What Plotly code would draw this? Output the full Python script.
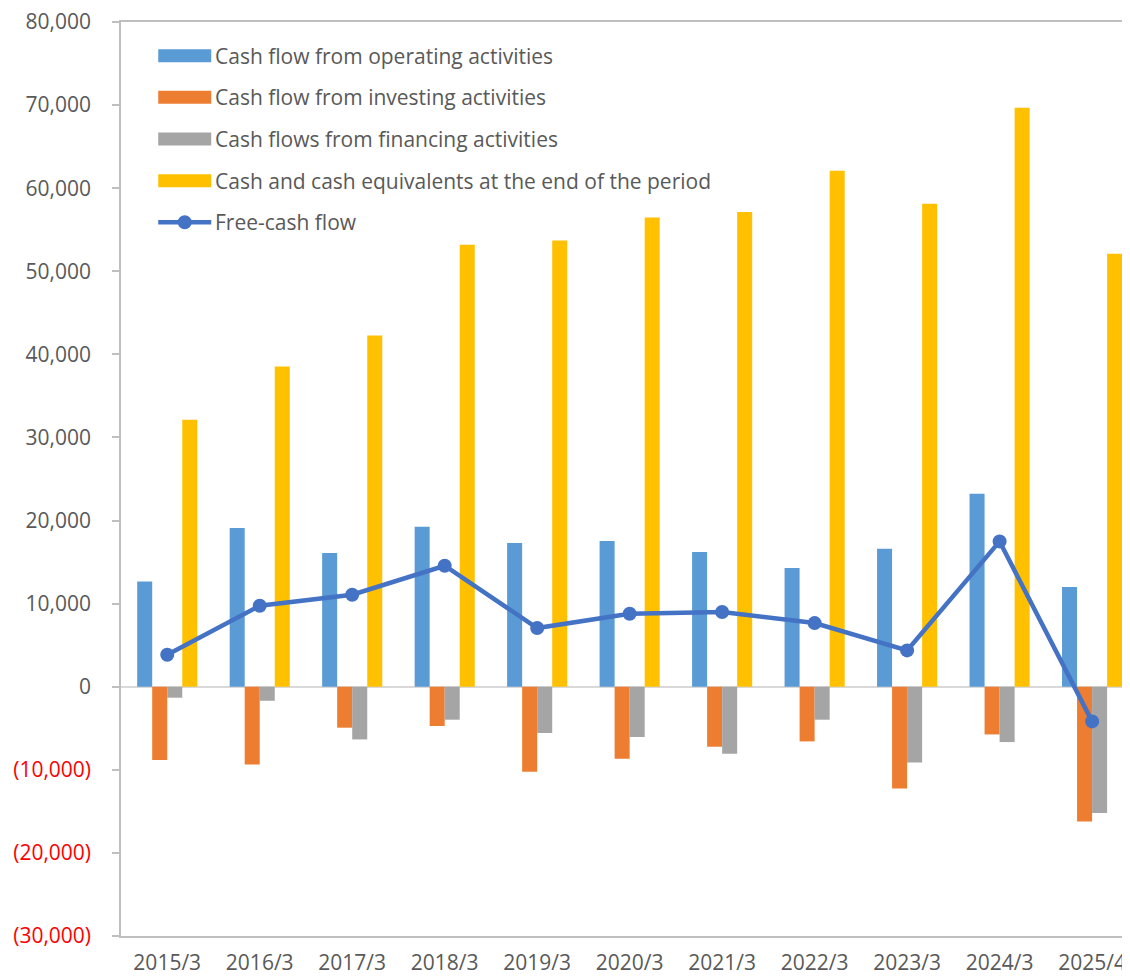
import plotly.graph_objects as go

# Fiscal periods and cash flow values (millions)
periods = ["2015/3", "2016/3", "2017/3", "2018/3", "2019/3", "2020/3",
           "2021/3", "2022/3", "2023/3", "2024/3", "2025/4"]
operating_cf = [12670, 19100, 16090, 19250, 17290, 17530, 16210, 14280, 16600, 23230, 12000]
investing_cf = [-8820, -9350, -4930, -4730, -10230, -8660, -7220, -6580, -12240, -5740, -16210]
financing_cf = [-1320, -1690, -6340, -3970, -5570, -6050, -8060, -3970, -9110, -6660, -15200]
cash_end = [32130, 38540, 42280, 53190, 53710, 56480, 57120, 62090, 58120, 69680, 52100]
free_cf = [3850, 9750, 11070, 14560, 7060, 8780, 8990, 7660, 4370, 17490, -4170]

y_ticks = list(range(-30000, 80001, 10000))

FONT = "Open Sans"
TEXT_COLOR = "#595959"
AXIS_COLOR = "#BFBFBF"
FONT_SIZE = 21

# the page body has an 8px margin, so the figure is laid out 8px in from the window edge
OFF = 8
W, H = 1130 - OFF, 977 - OFF
PLOT_L, PLOT_R, PLOT_T, PLOT_B = 120.75 - OFF, 1130 - OFF, 22 - OFF, 936 - OFF


def tick_label(v):
    if v < 0:
        return f'<span style="color:#FF0000">({abs(v):,})</span>'
    return f"{v:,}"


def px_x(x):
    # screen pixel -> paper fraction
    return (x - OFF - PLOT_L) / (PLOT_R - PLOT_L)


def px_y(y):
    return (PLOT_B - (y - OFF)) / (PLOT_B - PLOT_T)


bar_series = [
    ("Cash flow from operating activities", operating_cf, "#5B9BD5"),
    ("Cash flow from investing activities", investing_cf, "#ED7D31"),
    ("Cash flows from financing activities", financing_cf, "#A5A5A5"),
    ("Cash and cash equivalents at the end of the period", cash_end, "#FFC000"),
]

fig = go.Figure()
for name, vals, color in bar_series:
    fig.add_trace(go.Bar(x=periods, y=vals, name=name, marker_color=color,
                         marker_line_width=0, showlegend=False))

fig.add_trace(go.Scatter(
    x=periods, y=free_cf, name="Free-cash flow", mode="lines+markers",
    line=dict(color="#4472C4", width=4.5),
    marker=dict(color="#4472C4", size=14),
    showlegend=False,
))

# legend drawn by hand to mimic the wide spreadsheet swatches
shapes = []
annotations = []
row_y = [55.7, 97.3, 139.0, 180.7, 222.3]
sym_x0, sym_x1, text_x = 158, 211, 213
legend_font = dict(family=FONT, size=FONT_SIZE, color=TEXT_COLOR)
for i, (name, _, color) in enumerate(bar_series):
    yc = row_y[i]
    shapes.append(dict(type="rect", xref="paper", yref="paper",
                       x0=px_x(sym_x0), x1=px_x(sym_x1),
                       y0=px_y(yc + 6.5), y1=px_y(yc - 6.5),
                       fillcolor=color, line_width=0, layer="above"))
    annotations.append(dict(text=name, xref="paper", yref="paper",
                            x=px_x(text_x), y=px_y(yc), xanchor="left", yanchor="middle",
                            showarrow=False, font=legend_font))

yc = row_y[4]
shapes.append(dict(type="line", xref="paper", yref="paper",
                   x0=px_x(sym_x0), x1=px_x(sym_x1), y0=px_y(yc), y1=px_y(yc),
                   line=dict(color="#4472C4", width=4.5), layer="above"))
shapes.append(dict(type="circle", xref="paper", yref="paper",
                   x0=px_x(184.5 - 7), x1=px_x(184.5 + 7),
                   y0=px_y(yc + 7), y1=px_y(yc - 7),
                   fillcolor="#4472C4", line_width=0, layer="above"))
annotations.append(dict(text="Free-cash flow", xref="paper", yref="paper",
                        x=px_x(text_x), y=px_y(yc), xanchor="left", yanchor="middle",
                        showarrow=False, font=legend_font))

fig.update_layout(
    width=W, height=H,
    margin=dict(l=PLOT_L, r=W - PLOT_R, t=PLOT_T, b=H - PLOT_B, autoexpand=False),
    plot_bgcolor="white", paper_bgcolor="white",
    barmode="group", bargap=0.35, bargroupgap=0,
    showlegend=False,
    font=dict(family=FONT, size=FONT_SIZE, color=TEXT_COLOR),
    shapes=shapes, annotations=annotations,
)
fig.update_xaxes(
    type="category", range=[-0.5, 10.41], automargin=False,
    showline=True, linecolor=AXIS_COLOR, linewidth=1.5, mirror=True,
    showgrid=False, ticks="", ticklabelstandoff=7, ticklabeloverflow="allow",
    tickfont=dict(family=FONT, size=FONT_SIZE, color=TEXT_COLOR),
)
fig.update_yaxes(
    range=[-30000, 80000], tickvals=y_ticks, ticktext=[tick_label(v) for v in y_ticks],
    automargin=False,
    showline=True, linecolor=AXIS_COLOR, linewidth=1.5,
    ticks="outside", ticklen=7, tickcolor=AXIS_COLOR, tickwidth=1.5,
    showgrid=False, zeroline=True, zerolinecolor="#D9D9D9", zerolinewidth=2,
    ticklabelstandoff=17, ticklabeloverflow="allow",
    tickfont=dict(family=FONT, size=FONT_SIZE, color=TEXT_COLOR),
)

fig.write_html("out.html")
